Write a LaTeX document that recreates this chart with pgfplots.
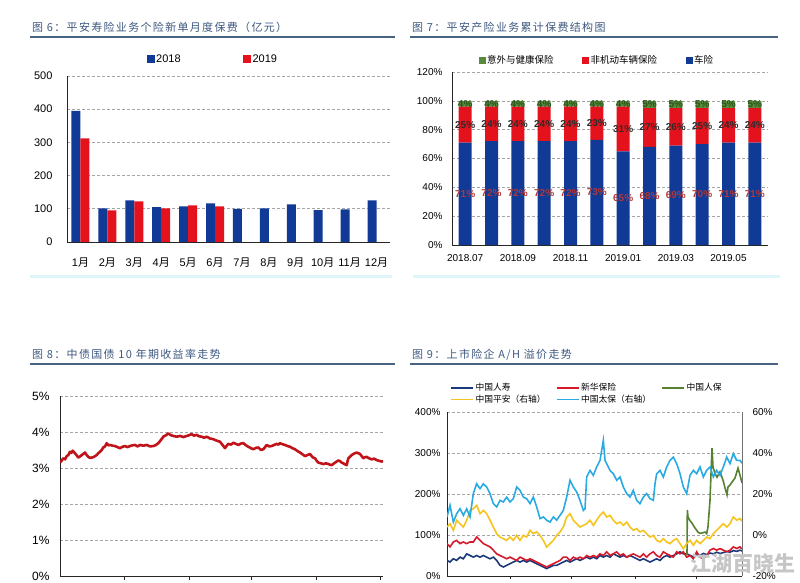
\documentclass[border=0pt]{standalone}
\usepackage{pgfplots}
\pgfplotsset{compat=1.18}
\usepackage{fontspec}
\setmainfont{Liberation Sans}
\newfontfamily\cjk{Noto Sans CJK SC}
\newfontfamily\cjktitle[LetterSpace=12]{Noto Sans CJK SC}
\definecolor{bblue}{RGB}{16,58,150}
\definecolor{bred}{RGB}{228,18,28}
\definecolor{bgreen}{RGB}{88,138,60}
\definecolor{ttl}{RGB}{62,88,128}
\definecolor{uline}{RGB}{72,98,130}
\definecolor{gridc}{RGB}{165,165,165}
\definecolor{sepc}{RGB}{222,246,250}
\definecolor{lblred}{RGB}{175,55,55}
\definecolor{lblgray}{RGB}{45,45,45}
\definecolor{lblgreen}{RGB}{45,85,30}
\definecolor{bondred}{RGB}{192,20,26}
\definecolor{clife}{RGB}{26,56,122}
\definecolor{nci}{RGB}{214,26,44}
\definecolor{picc}{RGB}{86,130,48}
\definecolor{pingan}{RGB}{246,196,32}
\definecolor{cpic}{RGB}{42,170,226}
\pgfplotsset{
  every axis/.append style={
    /pgf/number format/assume math mode=true,
    scale only axis,
    anchor=south west,
    axis line style={black!85, line width=0.8pt},
    grid style={gridc, dash pattern=on 2.5pt off 2.5pt, line width=0.6pt},
    tick style={draw=none},
  },
}
\begin{document}
\begin{tikzpicture}
\useasboundingbox (0pt,0pt) rectangle (800pt,583pt);
% titles
\node[anchor=base west, inner sep=0pt, text=ttl, font=\cjktitle\fontsize{11}{13}\selectfont] at (32pt,551pt) {图 6：平安寿险业务个险新单月度保费（亿元）};
\node[anchor=base west, inner sep=0pt, text=ttl, font=\cjktitle\fontsize{11}{13}\selectfont] at (412pt,551pt) {图 7：平安产险业务累计保费结构图};
\node[anchor=base west, inner sep=0pt, text=ttl, font=\cjktitle\fontsize{11}{13}\selectfont] at (32pt,224pt) {图 8：中债国债 10 年期收益率走势};
\node[anchor=base west, inner sep=0pt, text=ttl, font=\cjktitle\fontsize{11}{13}\selectfont] at (412pt,224pt) {图 9：上市险企 A/H 溢价走势};
\draw[uline, line width=1.2pt] (30pt,546pt) -- (395pt,546pt);
\draw[uline, line width=1.2pt] (410pt,546pt) -- (778pt,546pt);
\draw[uline, line width=1.2pt] (30pt,219pt) -- (395pt,219pt);
\draw[uline, line width=1.2pt] (410pt,219pt) -- (778pt,219pt);
\draw[sepc, line width=3pt] (30pt,306pt) -- (392pt,306pt);
\draw[sepc, line width=3pt] (413pt,306pt) -- (780pt,306pt);

% ---------- chart 6 ----------
\begin{axis}[
  at={(67pt,341pt)}, width=323pt, height=166pt,
  ybar=0pt, bar width=9pt,
  xmin=-0.5, xmax=11.5, ymin=0, ymax=500,
  axis x line*=bottom, axis y line*=left,
  xtick={0,...,11},
  xticklabels={1{\cjk 月},2{\cjk 月},3{\cjk 月},4{\cjk 月},5{\cjk 月},6{\cjk 月},7{\cjk 月},8{\cjk 月},9{\cjk 月},10{\cjk 月},11{\cjk 月},12{\cjk 月}},
  ytick={0,100,...,500},
  ymajorgrids,
  tick label style={font=\fontsize{11}{13}\selectfont},
  yticklabel style={xshift=-11pt},
  xticklabel style={yshift=-8pt},
  legend style={draw=none, fill=none, at={(0.246,1.1024)}, anchor=west, legend columns=2, inner sep=0pt, nodes={inner sep=1.5pt}, cells={anchor=west}, /tikz/every even column/.append style={column sep=61pt}, font=\fontsize{11}{13}\selectfont},
]
\addplot[fill=bblue, draw=none, legend image code/.code={\fill[bblue] (0pt,-4pt) rectangle (8pt,4pt);}] coordinates {(0,395) (1,101) (2,125) (3,105) (4,107) (5,116) (6,100) (7,101) (8,113) (9,96) (10,98) (11,125)};
\addplot[fill=bred, draw=none, legend image code/.code={\fill[bred] (0pt,-4pt) rectangle (8pt,4pt);}] coordinates {(0,312) (1,95) (2,122) (3,101) (4,110) (5,107)};
\legend{2018,2019}
\end{axis}

% ---------- chart 7 ----------
\begin{axis}[
  at={(452pt,338pt)}, width=316pt, height=173pt,
  ybar stacked, bar width=13pt,
  xmin=-0.5, xmax=11.5, ymin=0, ymax=120,
  axis x line*=bottom, axis y line*=left,
  xtick={0,2,4,6,8,10},
  xticklabels={2018.07,2018.09,2018.11,2019.01,2019.03,2019.05},
  ytick={0,20,...,120}, yticklabel={\pgfmathprintnumber{\tick}\%},
  ymajorgrids,
  tick label style={font=\fontsize{10}{12}\selectfont},
  yticklabel style={xshift=-6pt},
  xticklabel style={yshift=-6pt},
  nodes near coords={\pgfmathprintnumber{\pgfplotspointmeta}\%},
  point meta=rawy,
  every node near coord/.style={anchor=center, inner sep=0pt, font=\bfseries\fontsize{10}{12}\selectfont},
  reverse legend,
  legend style={draw=none, fill=none, at={(0.0839,1.069)}, anchor=west, legend columns=3, inner sep=0pt, nodes={inner sep=1.5pt}, cells={anchor=west}, /tikz/every even column/.append style={column sep=27pt}, font=\cjk\fontsize{9.5}{11}\selectfont},
]
\addplot[fill=bblue, draw=none, legend image code/.code={\fill[bblue] (0pt,-3.5pt) rectangle (7pt,3.5pt);}, every node near coord/.append style={text=lblred}] coordinates {(0,71) (1,72) (2,72) (3,72) (4,72) (5,73) (6,65) (7,68) (8,69) (9,70) (10,71) (11,71)};
\addplot[fill=bred, draw=none, legend image code/.code={\fill[bred] (0pt,-3.5pt) rectangle (7pt,3.5pt);}, every node near coord/.append style={text=lblgray}] coordinates {(0,25) (1,24) (2,24) (3,24) (4,24) (5,23) (6,31) (7,27) (8,26) (9,25) (10,24) (11,24)};
\addplot[fill=bgreen, draw=none, legend image code/.code={\fill[bgreen] (0pt,-3.5pt) rectangle (7pt,3.5pt);}, every node near coord/.append style={text=lblgreen}] coordinates {(0,4) (1,4) (2,4) (3,4) (4,4) (5,4) (6,4) (7,5) (8,5) (9,5) (10,5) (11,5)};
\legend{车险,非机动车辆保险,意外与健康保险}
\end{axis}

% ---------- chart 8 ----------
\begin{axis}[
  at={(60pt,7pt)}, width=323pt, height=180pt,
  xmin=60, xmax=383, ymin=0, ymax=5,
  axis x line*=bottom, axis y line*=left,
  xtick={124,189,251,316,380}, xticklabels={},
  tick align=outside, major tick length=4pt,
  xtick style={draw=black!85, line width=0.8pt},
  ytick={0,...,5}, yticklabel={\pgfmathprintnumber{\tick}\%},
  ymajorgrids,
  tick label style={font=\fontsize{12}{14}\selectfont},
  yticklabel style={xshift=-3pt},
]
\addplot[bondred, line width=2.6pt, line join=round] coordinates {
(60,3.15)(61.5,3.2)(63.3,3.27)(65,3.24)(66.7,3.33)(68.3,3.36)(70,3.45)(71.3,3.42)(72.7,3.48)(74,3.44)(75,3.41)(76.7,3.35)(78.3,3.29)(80.5,3.33)(82.7,3.38)(85,3.43)(86.7,3.36)(88.3,3.31)(90,3.28)(91.7,3.29)(94,3.31)(96.7,3.36)(98.3,3.41)(100,3.45)(101.7,3.5)(103.3,3.57)(105,3.6)(106.7,3.69)(108.3,3.63)(110,3.64)(112.5,3.62)(115,3.61)(117.5,3.58)(120,3.55)(122.5,3.59)(125,3.61)(127.5,3.58)(130,3.61)(132.5,3.63)(135,3.64)(137.5,3.6)(140,3.64)(143.3,3.62)(146.7,3.64)(150,3.6)(153.3,3.61)(156,3.64)(158.3,3.69)(161,3.78)(163.3,3.87)(166,3.91)(168.3,3.96)(171,3.91)(173.3,3.89)(176.7,3.87)(180,3.89)(183.3,3.86)(186.7,3.89)(189,3.91)(191.7,3.94)(194,3.9)(196.7,3.92)(199,3.88)(201.7,3.87)(204,3.84)(206.7,3.87)(210,3.82)(213.3,3.80)(216.7,3.76)(220,3.73)(222.5,3.64)(225,3.55)(226.7,3.62)(228.3,3.67)(231,3.65)(233.3,3.70)(236,3.67)(238.3,3.64)(241,3.68)(243.3,3.69)(246,3.63)(248.3,3.59)(251,3.55)(253.3,3.52)(256,3.56)(258.3,3.57)(261,3.5)(263.3,3.52)(265,3.58)(266.7,3.64)(269,3.6)(271.7,3.61)(274,3.64)(276.7,3.67)(278.3,3.65)(280,3.69)(282.5,3.66)(285,3.64)(287.5,3.61)(290,3.59)(292.5,3.55)(295,3.52)(297.5,3.47)(300,3.43)(302.5,3.38)(305,3.33)(307.5,3.36)(310,3.39)(312.5,3.3)(315,3.27)(316.7,3.2)(318.3,3.15)(321,3.13)(323.3,3.11)(326,3.13)(328.3,3.11)(330,3.09)(331.7,3.08)(334,3.13)(336.7,3.18)(338.3,3.21)(340,3.19)(341.7,3.15)(343.3,3.13)(345,3.1)(346.7,3.08)(347.5,3.18)(348.3,3.27)(350,3.31)(351.7,3.36)(354,3.4)(356.7,3.43)(358.3,3.41)(360,3.39)(361.7,3.33)(363.3,3.27)(365,3.3)(366.7,3.31)(369,3.27)(371.7,3.24)(374,3.26)(376.7,3.22)(379,3.2)(381.7,3.18)(383.5,3.19)(385,3.18)};
\end{axis}

% ---------- chart 9 (left axis) ----------
\begin{axis}[
  at={(447pt,7pt)}, width=295pt, height=164pt,
  xmin=141, xmax=1026, ymin=0, ymax=400,
  axis x line*=bottom, axis y line*=left,
  xtick={330,515,705,890}, xticklabels={},
  tick align=outside, major tick length=3pt,
  xtick style={draw=black!85, line width=0.8pt},
  ytick={0,100,...,400}, yticklabel={\pgfmathprintnumber{\tick}\%},
  ymajorgrids,
  tick label style={font=\fontsize{10}{12}\selectfont},
  yticklabel style={xshift=0pt},
]
\addplot[clife, line width=1.6pt] coordinates {(141,38)(150,34)(160,42)(170,38)(180,46)(190,42)(200,54)(210,50)(220,46)(230,50)(240,46)(250,50)(260,46)(270,42)(280,46)(290,38)(300,26)(310,22)(320,26)(330,30)(340,34)(350,38)(360,34)(370,38)(380,34)(390,38)(400,34)(410,30)(420,26)(430,22)(440,18)(450,22)(460,26)(470,26)(480,30)(490,34)(500,38)(510,34)(520,38)(530,42)(540,38)(550,42)(560,46)(570,42)(580,46)(590,42)(600,50)(610,46)(620,50)(630,46)(640,54)(650,50)(660,46)(670,50)(680,46)(690,50)(700,46)(710,42)(720,38)(730,42)(740,38)(750,34)(760,38)(770,42)(780,38)(790,46)(800,50)(810,46)(820,50)(830,54)(840,59)(850,54)(860,54)(870,50)(880,48)(890,52)(900,50)(910,55)(920,52)(930,56)(940,54)(950,58)(960,55)(970,57)(980,60)(990,58)(1000,62)(1010,60)(1020,63)(1026,61)};
\addplot[nci, line width=1.6pt] coordinates {(141,79)(150,71)(160,83)(170,87)(180,79)(190,83)(200,79)(210,83)(220,83)(230,95)(240,87)(250,79)(260,75)(270,71)(280,63)(290,54)(300,50)(310,46)(320,42)(330,46)(340,42)(350,38)(360,46)(370,42)(380,38)(390,42)(400,38)(410,34)(420,30)(430,26)(440,22)(450,26)(460,30)(470,34)(480,38)(490,46)(500,46)(510,38)(520,46)(530,42)(540,46)(550,42)(560,50)(570,46)(580,50)(590,46)(600,54)(610,50)(620,59)(630,50)(640,54)(650,59)(660,50)(670,54)(680,46)(690,50)(700,54)(710,50)(720,46)(730,54)(740,46)(750,54)(760,59)(770,50)(780,46)(790,59)(800,54)(810,50)(820,46)(830,59)(840,54)(850,59)(860,46)(870,50)(880,42)(890,59)(900,46)(910,42)(920,50)(930,63)(940,67)(950,63)(960,67)(970,63)(980,59)(990,63)(1000,71)(1010,67)(1020,71)(1026,66)};
\addplot[picc, line width=1.6pt] coordinates {(861,51)(862,161)(864,144)(870,135)(876,129)(885,117)(894,107)(900,104)(906,105)(915,107)(920,103)(924,120)(930,185)(936,312)(939,266)(945,250)(951,241)(960,254)(969,234)(975,215)(981,198)(984,217)(990,222)(996,229)(1005,239)(1014,263)(1020,246)(1026,227)};
\end{axis}

% ---------- chart 9 (right axis) ----------
\begin{axis}[
  at={(447pt,7pt)}, width=295pt, height=164pt,
  xmin=141, xmax=1026, ymin=-20, ymax=60,
  axis x line=none, axis y line*=right,
  axis line style={black!55, line width=0.8pt},
  ytick={-20,0,...,60}, yticklabel={\pgfmathprintnumber{\tick}\%},
  tick label style={font=\fontsize{10}{12}\selectfont},
  yticklabel style={xshift=7pt},
  legend image code/.code={\draw[#1] (0pt,0pt) -- (22pt,0pt);},
  legend style={draw=none, fill=none, at={(0.0119,1.1128)}, anchor=west, legend columns=3, inner sep=0pt, row sep=0pt, nodes={inner sep=1.5pt, text height=7pt, text depth=1.5pt}, cells={anchor=west}, /tikz/every even column/.append style={column sep=9pt}, font=\cjk\fontsize{8.75}{10}\selectfont},
]
\addlegendimage{clife, line width=1.5pt}
\addlegendimage{nci, line width=1.5pt}
\addlegendimage{picc, line width=1.5pt}
\addlegendimage{pingan, line width=1.5pt}
\addlegendimage{cpic, line width=1.5pt}
\addplot[pingan, line width=1.6pt, forget plot] coordinates {(141,3.9)(150,5.5)(160,2.3)(170,7.2)(180,5.5)(190,3.9)(200,7.2)(210,12.0)(220,12.8)(230,14.5)(240,10.4)(250,12.0)(260,10.4)(270,7.2)(280,3.9)(290,0.7)(300,-1.0)(310,-1.8)(320,-2.6)(330,-1.0)(340,-2.6)(350,-0.2)(360,-2.6)(370,-0.2)(380,-1.0)(390,2.3)(400,0.7)(410,1.5)(420,-0.2)(430,-2.6)(440,-5.9)(450,-4.2)(460,-2.6)(470,-0.2)(480,1.5)(490,3.9)(500,8.8)(510,10.4)(520,7.2)(530,5.5)(540,3.9)(550,4.7)(560,5.5)(570,7.2)(580,4.7)(590,7.2)(600,9.6)(610,11.2)(620,8.8)(630,9.6)(640,7.2)(650,5.5)(660,6.3)(670,4.7)(680,6.3)(690,3.9)(700,2.3)(710,3.1)(720,1.5)(730,2.3)(740,0.7)(750,-1.0)(760,-0.2)(770,-2.6)(780,-3.4)(790,-1.8)(800,-3.4)(810,-4.2)(820,-2.6)(830,-1.8)(840,-4.2)(850,-6.7)(860,-4.2)(870,-2.6)(880,-5.0)(890,-2.6)(900,-4.2)(910,-2.6)(920,-1.0)(930,-1.8)(940,0.7)(950,2.3)(960,3.9)(970,5.5)(980,3.9)(990,5.5)(1000,8.8)(1010,7.2)(1020,8.0)(1026,6.8)};
\addplot[cpic, line width=1.6pt, forget plot] coordinates {(141,8.8)(150,14.5)(160,6.3)(170,10.4)(180,12.8)(190,9.6)(200,12.8)(210,8.8)(220,20.2)(230,25.0)(240,22.6)(250,25.0)(260,23.4)(270,20.2)(280,15.3)(290,13.7)(300,16.9)(310,16.1)(320,18.5)(330,16.1)(340,17.7)(350,23.4)(360,21.8)(370,18.5)(380,17.7)(390,15.3)(400,18.5)(410,13.7)(420,8.0)(430,8.8)(440,7.2)(450,6.3)(460,8.8)(470,7.2)(480,9.6)(490,12.0)(500,18.5)(510,26.7)(520,23.4)(530,21.0)(540,16.9)(550,12.0)(555,12.8)(560,28.3)(570,31.5)(580,29.1)(590,33.2)(600,36.4)(610,46.2)(615,36.4)(620,34.8)(630,31.5)(640,29.9)(650,26.7)(660,28.3)(670,23.4)(680,20.2)(690,18.5)(700,21.8)(710,16.9)(720,15.3)(730,18.5)(740,20.2)(750,17.7)(760,16.9)(765,25)(770,29.9)(780,31.5)(790,28.3)(800,33.2)(810,36.4)(820,38.0)(830,34.8)(840,29.9)(850,23.4)(860,20.2)(870,29.1)(880,31.5)(890,29.9)(900,33.2)(910,28.3)(920,31.5)(930,33.2)(940,28.3)(950,31.5)(960,29.1)(970,33.2)(980,38.0)(990,34.8)(1000,39.7)(1010,36.4)(1020,36.4)(1026,35)};
\legend{中国人寿,新华保险,中国人保,中国平安（右轴）,中国太保（右轴）}
\end{axis}

\node[anchor=west, inner sep=0pt, text=gray!45, font=\cjk\bfseries\fontsize{21}{23}\selectfont] at (690pt,19pt) {江湖百晓生};
\end{tikzpicture}
\end{document}
